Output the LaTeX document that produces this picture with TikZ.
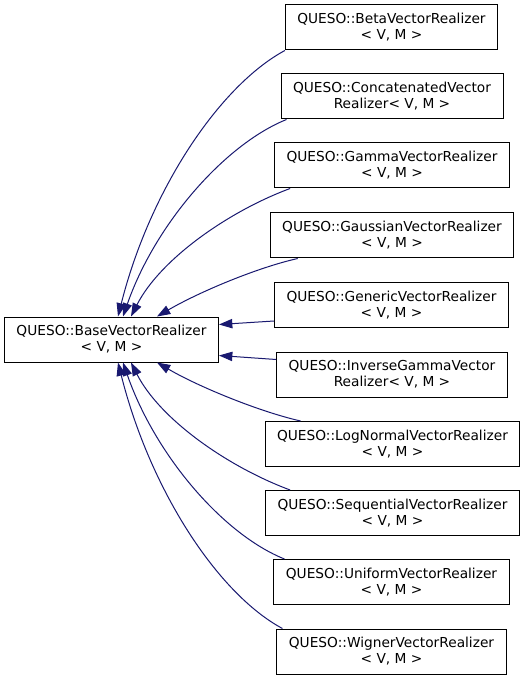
\documentclass[tikz,border=0pt]{standalone}
\usepackage{fontspec}
\setmainfont{DejaVu Sans}
\usepackage{tikz}
\usepackage{xcolor}
\usetikzlibrary{arrows.meta,positioning,calc}
\definecolor{ink}{RGB}{0,0,0}
\definecolor{edgeblue}{RGB}{25,25,112}
\tikzset{
  classbox/.style={draw=ink,line width=0.75pt,fill=white,align=center,inner xsep=9pt,inner ysep=2pt,minimum height=33.75pt,font=\fontsize{10.3}{12}\selectfont},
  edge/.style={-{Triangle[length=10pt,width=7pt]},line width=0.75pt,draw=edgeblue}
}
\begin{document}
\begin{tikzpicture}[x=0.75pt,y=-0.75pt]
  \useasboundingbox[fill=white] (0,0) rectangle (523,680);

  \node[classbox] (base) at (111.5,339.5) {QUESO::BaseVectorRealizer\\< V, M >};

  \node[classbox] (beta)       at (391.5,27.5)  {QUESO::BetaVectorRealizer\\< V, M >};
  \node[classbox] (concat)     at (392,96.5)    {QUESO::ConcatenatedVector\\Realizer< V, M >};
  \node[classbox] (gamma)      at (392,165.5)   {QUESO::GammaVectorRealizer\\< V, M >};
  \node[classbox] (gaussian)   at (392,235.5)   {QUESO::GaussianVectorRealizer\\< V, M >};
  \node[classbox] (generic)    at (391.5,305)   {QUESO::GenericVectorRealizer\\< V, M >};
  \node[classbox] (invgamma)   at (392,374.5)   {QUESO::InverseGammaVector\\Realizer< V, M >};
  \node[classbox] (lognormal)  at (392.5,444)   {QUESO::LogNormalVectorRealizer\\< V, M >};
  \node[classbox] (sequential) at (392.5,513)   {QUESO::SequentialVectorRealizer\\< V, M >};
  \node[classbox] (uniform)    at (391.5,582)   {QUESO::UniformVectorRealizer\\< V, M >};
  \node[classbox] (wigner)     at (391.5,651.5) {QUESO::WignerVectorRealizer\\< V, M >};

  % upper children
  \draw[edge] (beta.south west)
    .. controls +(-65,35) and +(32,-127) .. ($(base.north)+(6.5,0)$);
  \draw[edge] ($(concat.south west)+(6,0)$)
    .. controls +(-62,25) and +(32,-92) .. ($(base.north)+(11.5,0)$);
  \draw[edge] ($(gamma.south west)+(16,0)$)
    .. controls +(-62,23) and +(29,-57) .. ($(base.north)+(19.5,0)$);
  \draw[edge] ($(gaussian.south west)+(28,0)$)
    .. controls +(-40,9) and +(43,-25) .. ($(base.north)+(45.5,0)$);
  \draw[edge] ($(generic.south west)+(0,-7)$) -- ($(base.north east)+(0,8)$);

  % lower children
  \draw[edge] ($(invgamma.north west)+(0,8)$) -- ($(base.south east)+(0,-7)$);
  \draw[edge] ($(lognormal.north west)+(36,0)$)
    .. controls +(-40,-9) and +(43,25) .. ($(base.south)+(45.5,0)$);
  \draw[edge] ($(sequential.north west)+(25,0)$)
    .. controls +(-62,-23) and +(29,57) .. ($(base.south)+(19.5,0)$);
  \draw[edge] ($(uniform.north west)+(11,0)$)
    .. controls +(-62,-25) and +(32,92) .. ($(base.south)+(11.5,0)$);
  \draw[edge] ($(wigner.north west)+(6,0)$)
    .. controls +(-65,-35) and +(32,127) .. ($(base.south)+(6.5,0)$);
\end{tikzpicture}
\end{document}
